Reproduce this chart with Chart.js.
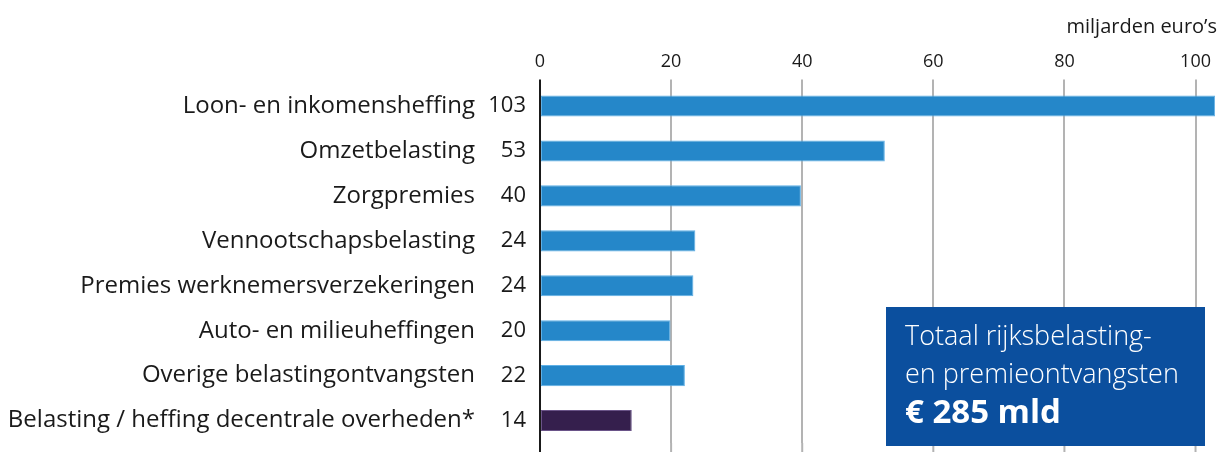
<!DOCTYPE html>
<html>
<head>
<meta charset="utf-8">
<script src="https://cdn.jsdelivr.net/npm/chart.js@4"></script>
<style>
  html, body { margin: 0; padding: 0; background: #fff; }
  #wrap { width: 1218px; height: 452px; position: relative; }
</style>
</head>
<body>
<div id="wrap"><canvas id="chart"></canvas></div>
<script>
const categories = [
    'Loon- en inkomensheffing',
    'Omzetbelasting',
    'Zorgpremies',
    'Vennootschapsbelasting',
    'Premies werknemersverzekeringen',
    'Auto- en milieuheffingen',
    'Overige belastingontvangsten',
    'Belasting / heffing decentrale overheden*'
];
const values = [103, 52.6, 39.8, 23.7, 23.4, 19.9, 22.1, 14.0];
const valueLabels = ['103', '53', '40', '24', '24', '20', '22', '14'];
const xTicks = [0, 20, 40, 60, 80, 100];
const totalLines = ['Totaal rijksbelasting-', 'en premieontvangsten'];
const totalValue = '€ 285 mld';

const FONT = '"Open Sans", "Noto Sans", sans-serif';
const blue = '#2587c9';
const purple = '#351f4d';

// value labels next to the axis, gridlines down to the bottom, total box
const extras = {
    id: 'extras',
    beforeDatasetsDraw(chart) {
        const { ctx, chartArea, scales } = chart;
        ctx.save();
        ctx.strokeStyle = '#b3b3b3';
        ctx.lineWidth = 2;
        xTicks.forEach((t) => {
            if (t === 0) return;
            const x = scales.x.getPixelForValue(t);
            ctx.beginPath();
            ctx.moveTo(x, chartArea.bottom);
            ctx.lineTo(x, chart.height);
            ctx.stroke();
        });
        ctx.strokeStyle = '#1a1a1a';
        ctx.beginPath();
        ctx.moveTo(chartArea.left, chartArea.top - 4);
        ctx.lineTo(chartArea.left, chart.height);
        ctx.stroke();
        ctx.restore();
    },
    afterDatasetsDraw(chart) {
        const { ctx, chartArea, scales } = chart;
        ctx.save();
        ctx.fillStyle = '#1a1a1a';
        ctx.font = '22px ' + FONT;
        ctx.textAlign = 'right';
        ctx.textBaseline = 'middle';
        valueLabels.forEach((v, i) => {
            ctx.fillText(v, chartArea.left - 14, scales.y.getPixelForValue(i));
        });

        // total box
        const bx = 886, by = 307, bw = 319, bh = 139;
        ctx.fillStyle = '#0b4f9e';
        ctx.fillRect(bx, by, bw, bh);
        ctx.fillStyle = '#ffffff';
        ctx.textAlign = 'left';
        ctx.font = '300 27px ' + FONT;
        ctx.fillText(totalLines[0], bx + 19, by + 30);
        ctx.fillText(totalLines[1], bx + 19, by + 68);
        ctx.font = 'bold 33px ' + FONT;
        ctx.fillText(totalValue, bx + 19, by + 107);
        ctx.restore();
    }
};

new Chart(document.getElementById('chart'), {
    type: 'bar',
    data: {
        labels: categories,
        datasets: [{
            data: values,
            backgroundColor: values.map((v, i) => i === values.length - 1 ? purple : blue),
            borderColor: values.map((v, i) => i === values.length - 1 ? '#6a5488' : '#5fb0e6'),
            borderWidth: 1,
            borderSkipped: false,
            barPercentage: 0.94,
            categoryPercentage: 0.5
        }]
    },
    options: {
        indexAxis: 'y',
        responsive: true,
        maintainAspectRatio: false,
        animation: false,
        layout: { padding: { top: 0, right: 1, bottom: 9, left: 0 } },
        plugins: {
            legend: { display: false },
            tooltip: { enabled: false },
            title: {
                display: true,
                text: "miljarden euro’s",
                align: 'end',
                color: '#1a1a1a',
                font: { family: FONT, size: 20, weight: 'normal' },
                padding: { top: 15, bottom: 5 }
            }
        },
        scales: {
            x: {
                position: 'top',
                min: 0,
                max: 103,
                afterBuildTicks(scale) {
                    scale.ticks = xTicks.map((v) => ({ value: v }));
                },
                ticks: {
                    color: '#1a1a1a',
                    font: { family: FONT, size: 18 },
                    padding: 7,
                    maxRotation: 0
                },
                grid: {
                    color: (c) => c.tick && c.tick.value === 0 ? 'rgba(0,0,0,0)' : '#b3b3b3',
                    lineWidth: 2,
                    tickLength: 4
                },
                border: { display: false }
            },
            y: {
                afterFit(scale) {
                    scale.width = 540;
                    scale.paddingTop = 0;
                    scale.paddingBottom = 0;
                },
                ticks: {
                    color: '#1a1a1a',
                    font: { family: FONT, size: 24 },
                    padding: 65
                },
                grid: { display: false, drawTicks: false },
                border: { display: false }
            }
        }
    },
    plugins: [extras]
});
</script>
</body>
</html>
